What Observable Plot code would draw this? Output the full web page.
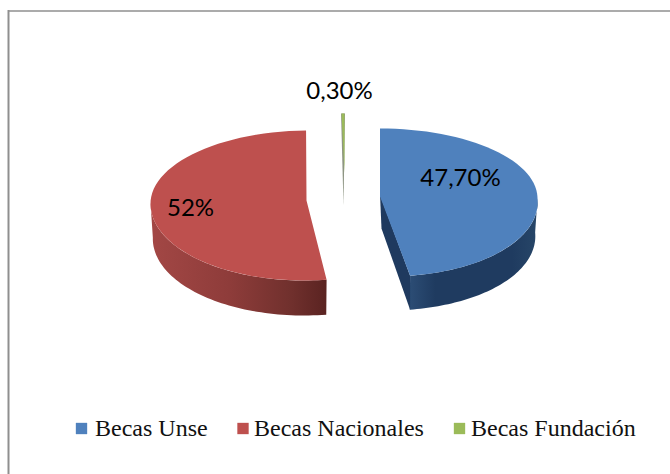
<!DOCTYPE html>
<html><head><meta charset="utf-8">
<script src="https://cdn.jsdelivr.net/npm/d3@7"></script>
<script src="https://cdn.jsdelivr.net/npm/@observablehq/plot@0.6"></script>
<style>html,body{margin:0;padding:0;background:#fff}svg{display:block}</style>
</head><body><div id="chart"></div>
<script>
const categories = ["Becas Unse", "Becas Nacionales", "Becas Fundación"];
const shares = [47.7, 52, 0.3];
const valueLabels = ["47,70%", "52%", "0,30%"];
const faceColors = ["#4f81bd", "#be504e", "#9bbb59"];

// Projection of each exploded slice (layout, not data)
const geom = [
  {cx:379.5, cy:198, rx:157.5, top:70, bot:78, depth:34, lean:7.5, leanTop:0, wall:"url(#wallBlue)"},
  {cx:306, cy:202, rx:156, top:72, bot:78, depth:35, lean:-2.4, leanTop:2.5, wall:"url(#wallRed)"},
  {cx:344, cy:172, rx:157, top:59, bot:78, depth:33, lean:0, leanTop:0, wall:"#8e9583"}
];
const labelPos = [[460,178],[190,208],[339,91]];
const legendSquareX = [81, 242.5, 459];
const legendTextX = [94.5, 253.5, 470.5];
const legendY = 428;

const total = d3.sum(shares);
let acc = 0;
const slices = categories.map((name,i)=>{
  const a0 = acc/total*2*Math.PI; acc += shares[i];
  const a1 = acc/total*2*Math.PI;
  return {name, i, a0, a1, ...geom[i]};
});
const pt = (s,a,dz=0,k=1)=>{
  const c=Math.cos(a), sn=Math.sin(a);
  const ry = c>0 ? s.top : s.bot;
  const lean = c<0 ? -c*s.lean : c*s.leanTop;
  return [s.cx + k*s.rx*sn + lean, s.cy - ry*c + dz];
};
const arc = (s,a0,a1,dz=0,k=1)=>d3.range(0,61).map(j=>pt(s,a0+(a1-a0)*j/60,dz,k));

const poly = (pts,name,fill)=>pts.map(p=>({x:p[0],y:p[1],name,fill}));
const faces = [], walls = [], inner = [];
for (const s of slices) {
  faces.push(...poly([[s.cx, s.cy-(s.i===2?0:2)], ...arc(s,s.a0,s.a1)], s.name+" face", faceColors[s.i]));
  // outer rim: only the part turned towards the viewer
  const lo = Math.max(s.a0, Math.PI/2), hi = Math.min(s.a1, 3*Math.PI/2);
  if (hi > lo) walls.push(...poly([...arc(s,lo,hi), ...arc(s,lo,hi,s.depth,0.985).reverse()], s.name+" rim", s.wall));
}
// radial wall of the blue slice, and of the green sliver
{
  const s = slices[0], e = pt(s,s.a1), ap=[s.cx,s.cy-4];
  inner.push(...poly([ap,e,[e[0],e[1]+s.depth],[ap[0]+1.5,ap[1]+s.depth]], s.name+" cut", "#1f3a5f"));
  const g = slices[2], e0 = pt(g,g.a0), e1 = pt(g,g.a1), ap2=[g.cx-1,g.cy+g.depth];
  inner.push(...poly([[e0[0]-0.5,e0[1]],[e1[0]+0.5,e1[1]],ap2], g.name+" cut", g.wall));
}

const labels = valueLabels.map((t,i)=>({t,x:labelPos[i][0],y:labelPos[i][1]}));
const legend = categories.map((name,i)=>({name,sx:legendSquareX[i],tx:legendTextX[i],y:legendY}));

const defs = ()=>{
  const svg = d3.create("svg:defs");
  const grad=(id,stops)=>{
    const g=svg.append("linearGradient").attr("id",id).attr("x1",0).attr("x2",1).attr("y1",0).attr("y2",0);
    stops.forEach(([o,c])=>g.append("stop").attr("offset",o).attr("stop-color",c));
  };
  grad("wallRed",[[0,"#a34745"],[0.45,"#8e3c3a"],[0.8,"#70302d"],[1,"#5a2321"]]);
  grad("wallBlue",[[0,"#2c4d75"],[0.2,"#1f3b60"],[0.8,"#1f3b60"],[1,"#274668"]]);
  return svg.node();
};

const lineOpts = {x:"x",y:"y",z:"name",fill:"fill",stroke:null};
const plot = Plot.plot({
  width:670, height:474, margin:0,
  x:{domain:[0,670],range:[0,670],axis:null},
  y:{domain:[0,474],range:[0,474],axis:null},
  color:{type:"identity"},
  style:{background:"#fff"},
  marks:[
    defs,
    Plot.ruleX([8],{y1:10,y2:474,stroke:"#8f8f8f",strokeWidth:2}),
    Plot.ruleY([10.5],{x1:8,x2:670,stroke:"#8f8f8f",strokeWidth:1.5}),
    Plot.line(walls,lineOpts),
    Plot.line(inner,lineOpts),
    Plot.line(faces,lineOpts),
    Plot.text(labels,{x:"x",y:"y",text:"t",fontFamily:"Lato",fontSize:24,fill:"#000"}),
    Plot.dot(legend,{x:"sx",y:"y",symbol:"square",r:6.4,fill:(d,i)=>faceColors[i],stroke:null}),
    Plot.text(legend,{x:"tx",y:"y",text:"name",textAnchor:"start",fontFamily:"Liberation Serif",fontSize:24,fill:"#111"})
  ]
});
document.getElementById("chart").append(plot);
</script></body></html>
